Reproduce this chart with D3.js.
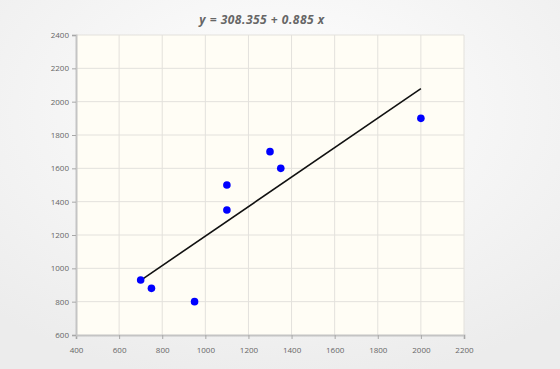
<!DOCTYPE html>
<html>
<head>
<meta charset="utf-8">
<script src="https://cdn.jsdelivr.net/npm/d3@7"></script>
<style>
  html, body { margin: 0; padding: 0; }
  body { width: 560px; height: 369px; overflow: hidden; }
  svg { display: block; font-family: "Open Sans", "DejaVu Sans", sans-serif; }
</style>
</head>
<body>
<svg width="560" height="369"></svg>
<script>
// Data
let xValues = [700, 750, 950, 1100, 1100, 1300, 1350, 2000];
let yValues = [930, 880, 800, 1500, 1350, 1700, 1600, 1900];
let xTicks = [400, 600, 800, 1000, 1200, 1400, 1600, 1800, 2000, 2200];
let yTicks = [600, 800, 1000, 1200, 1400, 1600, 1800, 2000, 2200, 2400];
let intercept = 308.355;
let slope = 0.885;
let title = 'y = 308.355 + 0.885 x';

let svg = d3.select('svg');
let width = +svg.attr('width');
let height = +svg.attr('height');
let margin = {top: 35, right: 96, bottom: 34, left: 76};

// Page background
let defs = svg.append('defs');
let grad = defs.append('radialGradient')
    .attr('id', 'bg')
    .attr('cx', '50%').attr('cy', '30%').attr('r', '75%');
grad.append('stop').attr('offset', '0%').attr('stop-color', '#ffffff');
grad.append('stop').attr('offset', '100%').attr('stop-color', '#ececec');
svg.append('rect')
    .attr('width', width)
    .attr('height', height)
    .attr('fill', 'url(#bg)');

// Scales
let x = d3.scaleLinear()
    .domain([400, 2200])
    .range([margin.left, width - margin.right]);
let y = d3.scaleLinear()
    .domain([600, 2400])
    .range([height - margin.bottom, margin.top]);

// Plot background
svg.append('rect')
    .attr('x', x(400))
    .attr('y', y(2400))
    .attr('width', x(2200) - x(400))
    .attr('height', y(600) - y(2400))
    .attr('fill', '#fffdf5');

// Grid lines
svg.append('g')
    .selectAll('line')
    .data(xTicks.slice(1))
    .enter().append('line')
    .attr('x1', d => x(d)).attr('x2', d => x(d))
    .attr('y1', y(2400)).attr('y2', y(600))
    .attr('stroke', '#e3e1dc')
    .attr('stroke-width', 1);
svg.append('g')
    .selectAll('line')
    .data(yTicks.slice(1))
    .enter().append('line')
    .attr('x1', x(400)).attr('x2', x(2200))
    .attr('y1', d => y(d)).attr('y2', d => y(d))
    .attr('stroke', '#e3e1dc')
    .attr('stroke-width', 1);

// Axes
let xAxis = svg.append('g')
    .attr('transform', 'translate(0,' + y(600) + ')')
    .call(d3.axisBottom(x).tickValues(xTicks).tickSize(4).tickPadding(8).tickFormat(d3.format('d')));
let yAxis = svg.append('g')
    .attr('transform', 'translate(' + x(400) + ',0)')
    .call(d3.axisLeft(y).tickValues(yTicks).tickSize(4).tickPadding(3).tickFormat(d3.format('d')));

[xAxis, yAxis].forEach(a => {
    a.select('.domain').attr('stroke', '#c4c4c4').attr('stroke-width', 2);
    a.selectAll('.tick line').attr('stroke', '#a8a8a8');
    a.selectAll('.tick text')
        .attr('fill', '#666')
        .style('font-size', '8px')
        .style('font-family', '"Open Sans", "DejaVu Sans", sans-serif');
});

// Regression line
let xMin = d3.min(xValues);
let xMax = d3.max(xValues);
svg.append('line')
    .attr('x1', x(xMin)).attr('y1', y(intercept + slope * xMin))
    .attr('x2', x(xMax)).attr('y2', y(intercept + slope * xMax))
    .attr('stroke', '#111')
    .attr('stroke-width', 1.6);

// Points
svg.append('g')
    .selectAll('circle')
    .data(xValues.map((v, i) => ({x: v, y: yValues[i]})))
    .enter().append('circle')
    .attr('cx', d => x(d.x))
    .attr('cy', d => y(d.y))
    .attr('r', 3.8)
    .attr('fill', '#0000ff');

// Title
svg.append('text')
    .attr('x', 262)
    .attr('y', 24)
    .attr('text-anchor', 'middle')
    .attr('fill', '#666')
    .style('font-size', '12px')
    .style('font-weight', 'bold')
    .style('font-style', 'italic')
    .style('letter-spacing', '0.5px')
    .text(title);
</script>
</body>
</html>
